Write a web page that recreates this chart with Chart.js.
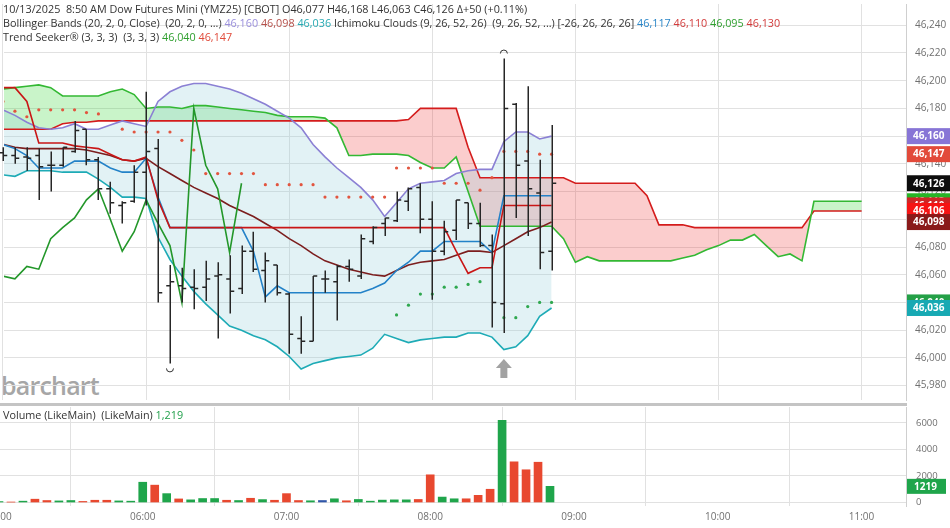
<!DOCTYPE html>
<html lang="en">
<head>
<meta charset="utf-8">
<title>Dow Futures Mini (YMZ25)</title>
<script src="https://cdn.jsdelivr.net/npm/chart.js@4.4.1/dist/chart.umd.min.js"></script>
<style>
    body { margin: 0; background: #fff; font-family: "Open Sans", sans-serif; }
    #contenedor { position: relative; width: 950px; height: 528px; overflow: hidden; }
    canvas { position: absolute; left: 0; }
    #graficoPrecio { top: 0; }
    #graficoVolumen { top: 407px; }
    #separador { position: absolute; left: 0; top: 403px; width: 907px; height: 3px; background: #c4c4c4; }
    #marca { position: absolute; left: 1px; top: 368px; font-size: 25px; font-weight: 600; color: #a6a6a6; letter-spacing: -0.8px; }
    .linea { position: absolute; left: 3px; font-size: 10.8px; line-height: 14px; color: #333; white-space: nowrap; }
</style>
</head>
<body>
<div id="contenedor">
    <div id="marca">barchart</div>
    <canvas id="graficoPrecio" width="950" height="404"></canvas>
    <div id="separador"></div>
    <canvas id="graficoVolumen" width="950" height="121"></canvas>

    <div class="linea" style="top:2px">10/13/2025&nbsp; 8:50 AM Dow Futures Mini (YMZ25) [CBOT] <span id="ohlc"></span></div>
    <div class="linea" style="top:16px">Bollinger Bands (20, 2, 0, Close)&nbsp; (20, 2, 0, ...)
        <span id="bbSup" style="color:#9a8fdc"></span> <span id="bbMed" style="color:#b5504a"></span> <span id="bbInf" style="color:#27aab3"></span>
        Ichimoku Clouds (9, 26, 52, 26)&nbsp; (9, 26, 52, ...) [-26, 26, 26, 26]
        <span id="ichTenkan" style="color:#2a86c8"></span> <span id="ichKijun" style="color:#d23a3a"></span> <span id="ichSpanA" style="color:#2f9f2f"></span> <span id="ichSpanB" style="color:#d23a3a"></span></div>
    <div class="linea" style="top:30px">Trend Seeker® (3, 3, 3)&nbsp; (3, 3, 3) <span id="tsVerde" style="color:#2f9f2f"></span> <span id="tsRojo" style="color:#e04a3a"></span></div>
    <div class="linea" style="top:408px">Volume (LikeMain)&nbsp; (LikeMain) <span id="vol" style="color:#22a04c"></span></div>
</div>

<script>
const PASO_MIN = 5;
const HORA_BASE = "05:00";

const etiquetasHora = ["05:00", "06:00", "07:00", "08:00", "09:00", "10:00", "11:00"];
const marcasPrecio = [45980, 46000, 46020, 46040, 46060, 46080, 46100, 46120, 46140, 46160, 46180, 46200, 46220, 46240];
const marcasVolumen = [0, 2000, 4000, 6000];

// barras de 5 minutos, 05:00 a 08:50
const aperturas = [46148, 46146, 46145, 46146, 46139, 46139, 46149, 46165, 46143, 46122,
    46110, 46113, 46134, 46151, 46052, 46052, 46051, 46051, 46059, 46057,
    46050, 46077, 46063, 46067, 46046, 46014, 46012, 46057, 46055, 46066,
    46059, 46084, 46097, 46099, 46113, 46123, 46100, 46077, 46092, 46112,
    46097, 46081, 46039, 46183, 46142, 46119, 46077];
const maximos = [46152, 46152, 46152, 46151, 46149, 46152, 46171, 46165, 46145, 46127,
    46113, 46139, 46192, 46158, 46067, 46065, 46064, 46070, 46069, 46074,
    46081, 46091, 46076, 46067, 46047, 46030, 46059, 46063, 46067, 46071,
    46089, 46095, 46101, 46120, 46123, 46126, 46113, 46099, 46114, 46112,
    46112, 46089, 46216, 46184, 46196, 46143, 46168];
const minimos = [46142, 46140, 46135, 46114, 46120, 46138, 46148, 46139, 46114, 46104,
    46097, 46112, 46110, 46040, 45996, 46040, 46035, 46041, 46014, 46032,
    46046, 46062, 46040, 46045, 46003, 46003, 46012, 46047, 46027, 46055,
    46057, 46082, 46088, 46098, 46106, 46090, 46042, 46074, 46085, 46093,
    46080, 46022, 46018, 46101, 46088, 46064, 46063];
const cierres = [46146, 46144, 46144, 46138, 46139, 46152, 46164, 46143, 46122, 46112,
    46112, 46134, 46149, 46047, 46055, 46050, 46050, 46057, 46060, 46048,
    46077, 46064, 46070, 46047, 46017, 46012, 46059, 46057, 46066, 46064,
    46086, 46094, 46101, 46114, 46122, 46100, 46077, 46091, 46114, 46097,
    46081, 46040, 46180, 46139, 46122, 46076, 46126];

const volumenes = [70, 30, 100, 250, 150, 120, 150, 80, 170, 170, 120, 100,
    1530, 1310, 670, 270, 200, 300, 300, 170, 150, 320, 220, 170,
    670, 150, 130, 150, 280, 130, 230, 100, 180, 200, 200, 230,
    2090, 410, 280, 280, 540, 1000, 6200, 3070, 2470, 3040, 1219];
// s = sube, b = baja, i = igual
const direccionVolumen = ["s", "b", "s", "b", "b", "s", "s", "b", "b", "b", "s", "s",
    "s", "b", "s", "b", "s", "s", "s", "b", "s", "b", "s", "b",
    "b", "b", "s", "i", "s", "b", "s", "s", "s", "s", "s", "b",
    "b", "s", "s", "b", "b", "b", "s", "b", "b", "b", "s"];

const bbSuperior = [46179, 46175, 46170, 46166, 46165, 46166, 46169, 46165, 46165, 46168,
    46171, 46169, 46167, 46185, 46192, 46196, 46198, 46198, 46196, 46194,
    46191, 46187, 46183, 46178, 46173, 46166, 46154, 46145, 46137, 46130,
    46123, 46114, 46102, 46112, 46122, 46126, 46127, 46128, 46133, 46135,
    46136, 46136, 46156, 46163, 46163, 46158, 46160];
const bbMedia = [46154, 46152, 46151, 46151, 46151, 46151, 46151, 46150, 46148, 46146,
    46143, 46142, 46144, 46138, 46133, 46128, 46123, 46119, 46115, 46110,
    46106, 46102, 46097, 46092, 46086, 46081, 46075, 46070, 46067, 46064,
    46062, 46060, 46059, 46063, 46067, 46069, 46070, 46071, 46074, 46077,
    46077, 46076, 46081, 46086, 46091, 46094, 46098];
const bbInferior = [46132, 46131, 46135, 46135, 46135, 46134, 46134, 46134, 46129, 46123,
    46116, 46116, 46115, 46087, 46071, 46059, 46048, 46039, 46031, 46023,
    46020, 46016, 46013, 46008, 46001, 45992, 45996, 45998, 46000, 46001,
    46002, 46007, 46017, 46014, 46011, 46013, 46014, 46015, 46015, 46018,
    46018, 46015, 46006, 46008, 46016, 46030, 46036];

const tenkan = [46154, 46151, 46146, 46137, 46137, 46137, 46142, 46142, 46142, 46137,
    46134, 46134, 46144, 46116, 46094, 46094, 46094, 46094, 46094, 46094,
    46094, 46077, 46044, 46052, 46047, 46047, 46047, 46047, 46047, 46047,
    46047, 46050, 46054, 46063, 46069, 46077, 46077, 46084, 46084, 46084,
    46084, 46076, 46117, 46117, 46117, 46117, 46117];
const kijun = [46195, 46195, 46185, 46155, 46155, 46155, 46153, 46152, 46151, 46147,
    46143, 46142, 46145, 46114, 46094, 46094, 46094, 46094, 46094, 46094,
    46094, 46094, 46094, 46094, 46094, 46094, 46094, 46094, 46094, 46094,
    46094, 46094, 46094, 46094, 46094, 46094, 46094, 46094, 46077, 46061,
    46065, 46065, 46110, 46110, 46110, 46110, 46110];
// nube adelantada 26 barras: 05:00 a 11:00
const spanA = [46194, 46195, 46196, 46197, 46195, 46189, 46189, 46189, 46189, 46192,
    46194, 46190, 46180, 46181, 46181, 46180, 46182, 46182, 46181, 46180,
    46179, 46178, 46177, 46175, 46174, 46174, 46174, 46173, 46166, 46146,
    46146, 46147, 46147, 46147, 46146, 46141, 46137, 46137, 46145, 46120,
    46095, 46095, 46095, 46095, 46095, 46095, 46095, 46086, 46069, 46073,
    46070, 46070, 46070, 46070, 46070, 46070, 46070, 46072, 46074, 46078,
    46081, 46085, 46085, 46089, 46081, 46073, 46075, 46070, 46113, 46113,
    46113, 46113, 46113];
const spanB = [46165, 46165, 46165, 46165, 46165, 46169, 46170, 46170, 46171, 46171,
    46171, 46171, 46171, 46171, 46171, 46171, 46171, 46171, 46171, 46171,
    46171, 46171, 46171, 46171, 46171, 46171, 46171, 46171, 46171, 46171,
    46171, 46171, 46171, 46171, 46172, 46180, 46180, 46180, 46180, 46152,
    46130, 46130, 46130, 46130, 46130, 46130, 46130, 46130, 46126, 46126,
    46126, 46126, 46126, 46126, 46117, 46096, 46096, 46096, 46094, 46094,
    46094, 46094, 46094, 46094, 46094, 46094, 46094, 46094, 46106, 46106,
    46106, 46106, 46106];
// chikou: atrasado 26 barras, 05:00 a 06:40
const chikou = [46059, 46057, 46066, 46064, 46086, 46094, 46101, 46114, 46122, 46100,
    46077, 46091, 46114, 46097, 46081, 46040, 46180, 46139, 46122, 46076, 46126];

const tendenciaRoja = [46185, 46178, 46174, 46179, 46179, 46179, 46179, 46177, 46176, null,
    46165, 46163, 46163, 46163, 46163, 46157, 46150, 46133, 46133, 46133,
    46133, 46133, 46125, 46125, 46125, 46125, 46125, 46116, 46116, 46116,
    46116, 46116, 46116, 46137, 46137, 46137, 46137, 46126, 46126, 46126,
    46121, 46130, 46149, 46149, 46149, 46147, 46147];
// empieza en la barra de 07:45
const inicioTendenciaVerde = 33;
const tendenciaVerde = [46031, 46038, 46046, 46046, 46051, 46051, 46053, 46055, null,
    46029, 46029, 46037, 46040, 46040];

const horasSenal = ["08:30"];

const coloresVolumen = { s: "#1fa54b", b: "#e8482f", i: "#2f55a8" };

function aMinutos(hora) {
    const [h, m] = hora.split(":").map(Number);
    const [hb, mb] = HORA_BASE.split(":").map(Number);
    return (h * 60 + m) - (hb * 60 + mb);
}

function formatear(valor) {
    return String(valor).replace(/\B(?=(\d{3})+(?!\d))/g, ",");
}

function serie(valores, desde = 0) {
    return valores.map((v, i) => ({ x: (i + desde) * PASO_MIN, y: v }));
}

function linea(etiqueta, valores, color, extra) {
    return Object.assign({
        label: etiqueta,
        data: serie(valores),
        borderColor: color,
        borderWidth: 1.6,
        pointRadius: 0,
        tension: 0,
        fill: false
    }, extra);
}

function puntos(etiqueta, valores, color, desde = 0) {
    return {
        label: etiqueta,
        data: serie(valores, desde),
        showLine: false,
        pointRadius: 1.6,
        pointBorderWidth: 0,
        pointBackgroundColor: color,
        borderColor: color
    };
}

function escalaX() {
    return {
        type: "linear",
        min: 0.42,
        max: 378.6,
        offset: false,
        afterBuildTicks: escala => {
            escala.ticks = etiquetasHora.map(h => ({ value: aMinutos(h) }));
        },
        ticks: { display: false },
        grid: { color: "#e1e1e1", drawTicks: false },
        border: { display: false }
    };
}

function mostrarEncabezado() {
    const n = cierres.length - 1;
    const cambio = cierres[n] - cierres[n - 1];
    const pct = (cambio / cierres[n - 1] * 100).toFixed(2);
    document.getElementById("ohlc").textContent =
        `O${formatear(aperturas[n])} H${formatear(maximos[n])} L${formatear(minimos[n])} C${formatear(cierres[n])} Δ+${cambio} (+${pct}%)`;
    document.getElementById("bbSup").textContent = formatear(bbSuperior[n]);
    document.getElementById("bbMed").textContent = formatear(bbMedia[n]);
    document.getElementById("bbInf").textContent = formatear(bbInferior[n]);
    document.getElementById("ichTenkan").textContent = formatear(tenkan[n]);
    document.getElementById("ichKijun").textContent = formatear(kijun[n]);
    document.getElementById("ichSpanA").textContent = formatear(spanA[n]);
    document.getElementById("ichSpanB").textContent = formatear(spanB[n]);
    document.getElementById("tsVerde").textContent = formatear(tendenciaVerde.at(-1));
    document.getElementById("tsRojo").textContent = formatear(tendenciaRoja.at(-1));
    document.getElementById("vol").textContent = formatear(volumenes[n]);
}

// barras OHLC, marcas de máximo/mínimo y flecha de señal
const pluginBarras = {
    id: "barras",
    afterDatasetsDraw(chart) {
        const { ctx, scales: { x, y } } = chart;
        ctx.save();
        ctx.strokeStyle = "#262626";
        ctx.lineWidth = 1.5;
        cierres.forEach((c, i) => {
            const px = Math.round(x.getPixelForValue(i * PASO_MIN)) + 0.25;
            const yo = y.getPixelForValue(aperturas[i]);
            const yc = y.getPixelForValue(c);
            ctx.beginPath();
            ctx.moveTo(px, y.getPixelForValue(maximos[i]));
            ctx.lineTo(px, y.getPixelForValue(minimos[i]));
            ctx.moveTo(px - 4, yo);
            ctx.lineTo(px, yo);
            ctx.moveTo(px, yc);
            ctx.lineTo(px + 4, yc);
            ctx.stroke();
        });

        const iMax = maximos.indexOf(Math.max(...maximos));
        const iMin = minimos.indexOf(Math.min(...minimos));
        ctx.lineWidth = 1;
        ctx.strokeStyle = "#333";
        ctx.beginPath();
        ctx.arc(x.getPixelForValue(iMax * PASO_MIN), y.getPixelForValue(maximos[iMax]) - 5, 3.5, Math.PI, 2 * Math.PI);
        ctx.stroke();
        ctx.beginPath();
        ctx.arc(x.getPixelForValue(iMin * PASO_MIN), y.getPixelForValue(minimos[iMin]) + 5, 3.5, 0, Math.PI);
        ctx.stroke();

        ctx.fillStyle = "#a2a2a2";
        horasSenal.forEach(hora => {
            const i = aMinutos(hora) / PASO_MIN;
            const px = x.getPixelForValue(aMinutos(hora));
            const py = y.getPixelForValue(minimos[i]) + 26;
            ctx.beginPath();
            ctx.moveTo(px, py);
            ctx.lineTo(px + 8, py + 9);
            ctx.lineTo(px + 3.5, py + 9);
            ctx.lineTo(px + 3.5, py + 19);
            ctx.lineTo(px - 3.5, py + 19);
            ctx.lineTo(px - 3.5, py + 9);
            ctx.lineTo(px - 8, py + 9);
            ctx.closePath();
            ctx.fill();
        });
        ctx.restore();
    }
};

// últimos valores de cada serie en el eje derecho (orden de dibujo)
const etiquetasEje = [
    [tendenciaVerde, "#24a047"],
    [bbInferior, "#17a9b3"],
    [spanA, "#26b526"],
    [kijun, "#cf2626"],
    [spanB, "#f51414"],
    [bbMedia, "#8a1a1a"],
    [cierres, "#0d0d0d"],
    [tendenciaRoja, "#e24a3a"],
    [bbSuperior, "#8775d6"]
];

const pluginEjePrecio = {
    id: "ejePrecio",
    afterDraw(chart) {
        const { ctx, scales: { y } } = chart;
        ctx.save();
        ctx.textBaseline = "middle";
        ctx.font = '10px "Open Sans"';
        ctx.fillStyle = "#707070";
        marcasPrecio.forEach(v => ctx.fillText(formatear(v), 915, y.getPixelForValue(v)));

        ctx.font = 'bold 10px "Open Sans"';
        etiquetasEje.forEach(([valores, color]) => {
            const valor = valores.at(-1);
            const py = y.getPixelForValue(valor);
            ctx.fillStyle = color;
            ctx.fillRect(907, py - 8, 43, 16);
            ctx.fillStyle = "#fff";
            ctx.fillText(formatear(valor), 913, py + 0.5);
        });
        ctx.restore();
    }
};

const pluginEjeVolumen = {
    id: "ejeVolumen",
    afterDraw(chart) {
        const { ctx, scales: { x, y } } = chart;
        ctx.save();
        ctx.textBaseline = "middle";
        ctx.font = '9.5px "Open Sans"';
        ctx.fillStyle = "#707070";
        marcasVolumen.forEach(v => ctx.fillText(String(v), 916, y.getPixelForValue(v)));

        ctx.font = '10px "Open Sans"';
        ctx.textAlign = "center";
        etiquetasHora.forEach(h => ctx.fillText(h, x.getPixelForValue(aMinutos(h)), 110));

        const ultimo = volumenes.at(-1);
        const py = y.getPixelForValue(ultimo);
        ctx.fillStyle = coloresVolumen[direccionVolumen.at(-1)];
        ctx.fillRect(907, py - 7.5, 39, 15);
        ctx.fillStyle = "#fff";
        ctx.font = 'bold 10px "Open Sans"';
        ctx.textAlign = "left";
        ctx.fillText(String(ultimo), 914, py + 0.5);
        ctx.restore();
    }
};

function crearGraficoPrecio() {
    const rellenoBB = "rgba(150, 210, 218, 0.28)";

    new Chart(document.getElementById("graficoPrecio"), {
        type: "line",
        data: {
            datasets: [
                puntos("Trend Seeker alto", tendenciaRoja, "#e2553f"),
                puntos("Trend Seeker bajo", tendenciaVerde, "#2fa84f", inicioTendenciaVerde),
                linea("Chikou", chikou, "#23972a"),
                linea("Kijun", kijun, "#c91616"),
                linea("Tenkan", tenkan, "#2382c8"),
                linea("BB media", bbMedia, "#7c1e1e"),
                linea("BB superior", bbSuperior, "#8b80d4", { fill: { target: 7, above: rellenoBB, below: rellenoBB } }),
                linea("BB inferior", bbInferior, "#1eabb6"),
                linea("Span A", spanA, "#33b833", {
                    fill: { target: 9, above: "rgba(60, 215, 60, 0.28)", below: "rgba(240, 60, 60, 0.26)" }
                }),
                linea("Span B", spanB, "#d41c1c")
            ]
        },
        options: {
            responsive: false,
            animation: false,
            events: [],
            layout: { padding: { right: 44 } },
            plugins: {
                legend: { display: false },
                tooltip: { enabled: false },
                filler: { drawTime: "beforeDatasetsDraw" }
            },
            scales: {
                x: escalaX(),
                y: {
                    position: "right",
                    min: 45969.6,
                    max: 46255.35,
                    afterBuildTicks: escala => {
                        escala.ticks = marcasPrecio.map(v => ({ value: v }));
                    },
                    ticks: { display: false },
                    grid: { color: "#e1e1e1", drawTicks: false },
                    border: { display: true, color: "#cfcfcf" }
                }
            }
        },
        plugins: [pluginBarras, pluginEjePrecio]
    });
}

function crearGraficoVolumen() {
    new Chart(document.getElementById("graficoVolumen"), {
        type: "bar",
        data: {
            datasets: [
                {
                    label: "Volume",
                    data: serie(volumenes),
                    backgroundColor: direccionVolumen.map(d => coloresVolumen[d]),
                    barThickness: 8,
                    borderWidth: 0
                }
            ]
        },
        options: {
            responsive: false,
            animation: false,
            events: [],
            layout: { padding: { right: 44, bottom: 22 } },
            plugins: {
                legend: { display: false },
                tooltip: { enabled: false }
            },
            scales: {
                x: escalaX(),
                y: {
                    position: "right",
                    min: -264,
                    max: 7207,
                    afterBuildTicks: escala => {
                        escala.ticks = marcasVolumen.map(v => ({ value: v }));
                    },
                    ticks: { display: false },
                    grid: { color: "#e1e1e1", drawTicks: false },
                    border: { display: true, color: "#cfcfcf" }
                }
            }
        },
        plugins: [pluginEjeVolumen]
    });
}

mostrarEncabezado();
crearGraficoPrecio();
crearGraficoVolumen();
</script>
</body>
</html>
